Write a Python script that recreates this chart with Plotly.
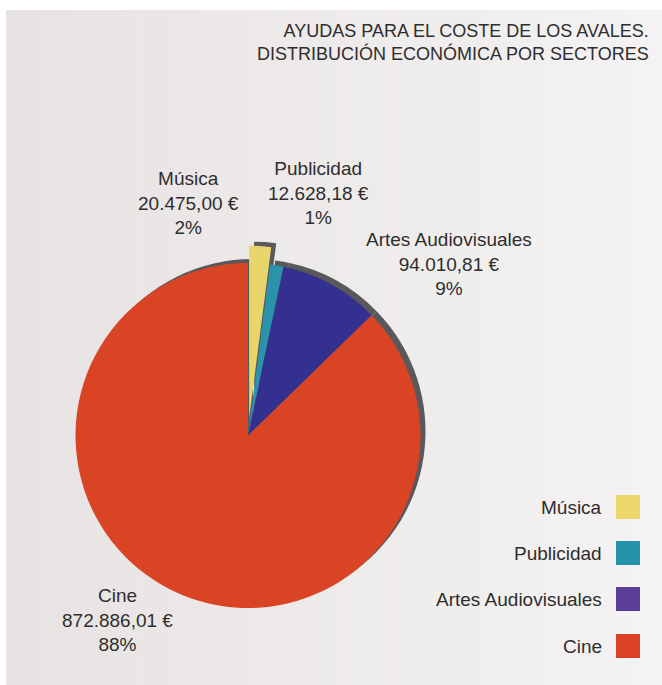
import plotly.graph_objects as go

# ---------------- data ----------------
categories = ["Música", "Publicidad", "Artes Audiovisuales", "Cine"]
amounts = [20475.00, 12628.18, 94010.81, 872886.01]
amount_labels = ["20.475,00 €", "12.628,18 €", "94.010,81 €", "872.886,01 €"]
percent_labels = ["2%", "1%", "9%", "88%"]
pie_colors = ["#e8d56b", "#2a93ab", "#33308f", "#d94425"]
legend_colors = ["#ebd66a", "#2593ac", "#5b3e99", "#db4125"]
pulls = [0.1, 0, 0, 0]
title_lines = ["AYUDAS PARA EL COSTE DE LOS AVALES.", "DISTRIBUCIÓN ECONÓMICA POR SECTORES"]

# ---------------- layout helpers ----------------
W, H = 662, 685
FONT = "Liberation Sans, Arial, Helvetica, sans-serif"
TXT = "#2e2e2e"
cx, cy, r = 248, 435.5, 172.5
half = r * (1 + max(pulls))


def dom(dx=0.0, dy=0.0):
    return dict(
        x=[(cx - half + dx) / W, (cx + half + dx) / W],
        y=[(H - cy - half - dy) / H, (H - cy + half - dy) / H],
    )


fig = go.Figure()

# shadow
fig.add_trace(go.Pie(
    labels=categories, values=amounts, sort=False, direction="clockwise",
    rotation=0, pull=pulls, domain=dom(5, -4),
    marker=dict(colors=["#59595b"] * len(categories), line=dict(width=0)),
    textinfo="none", hoverinfo="skip", showlegend=False,
))
# main pie
fig.add_trace(go.Pie(
    labels=categories, values=amounts, sort=False, direction="clockwise",
    rotation=0, pull=pulls, domain=dom(0, 0),
    marker=dict(colors=pie_colors, line=dict(width=0)),
    textinfo="none", hoverinfo="label+value", showlegend=False,
))

shapes = []
# background box with a soft horizontal gradient
x0, y0 = 6, 10
n = 40
c0 = (0xe7, 0xe3, 0xe2)
c1 = (0xf4, 0xf2, 0xf2)
for i in range(n):
    t = i / (n - 1)
    col = "rgb(%d,%d,%d)" % tuple(round(a + (b - a) * t) for a, b in zip(c0, c1))
    xa = x0 + (W - x0) * i / n
    xb = x0 + (W - x0) * (i + 1) / n + 0.6
    shapes.append(dict(type="rect", xref="paper", yref="paper",
                       x0=xa / W, x1=min(xb, W) / W, y0=0, y1=(H - y0) / H,
                       fillcolor=col, line=dict(width=0), layer="below"))

annotations = []
# title
annotations.append(dict(
    text="<br>".join(title_lines), x=651 / W, y=(H - 43) / H,
    xref="paper", yref="paper", xanchor="right", yanchor="middle",
    align="right", showarrow=False,
    font=dict(family=FONT, size=18, color=TXT),
))

# slice labels (center positions in pixels)
label_pos = [(188, 203), (318, 193), (449, 264), (117, 620)]
for cat, amt, pct, (lx, ly) in zip(categories, amount_labels, percent_labels, label_pos):
    annotations.append(dict(
        text=f"{cat}<br>{amt}<br>{pct}", x=lx / W, y=(H - ly) / H,
        xref="paper", yref="paper", xanchor="center", yanchor="middle",
        align="center", showarrow=False,
        font=dict(family=FONT, size=19, color=TXT),
    ))

# custom legend: text right-aligned, square on the right
leg_y = [507, 553, 599, 646]
for cat, col, ly in zip(categories, legend_colors, leg_y):
    annotations.append(dict(
        text=cat, x=604 / W, y=(H - ly) / H,
        xref="paper", yref="paper", xanchor="right", yanchor="middle",
        showarrow=False, font=dict(family=FONT, size=19, color=TXT),
    ))
    shapes.append(dict(type="rect", xref="paper", yref="paper",
                       x0=616 / W, x1=640 / W, y0=(H - ly - 12) / H, y1=(H - ly + 12) / H,
                       fillcolor=col, line=dict(width=0), layer="above"))

fig.update_layout(
    width=W, height=H,
    margin=dict(l=0, r=0, t=0, b=0),
    paper_bgcolor="#ffffff", plot_bgcolor="#ffffff",
    shapes=shapes, annotations=annotations, showlegend=False,
)

fig.write_html(
    "out.html",
    config={"displayModeBar": False},
    post_script="document.body.style.margin='0';document.body.style.padding='0';"
                "document.body.style.overflow='hidden';",
)
